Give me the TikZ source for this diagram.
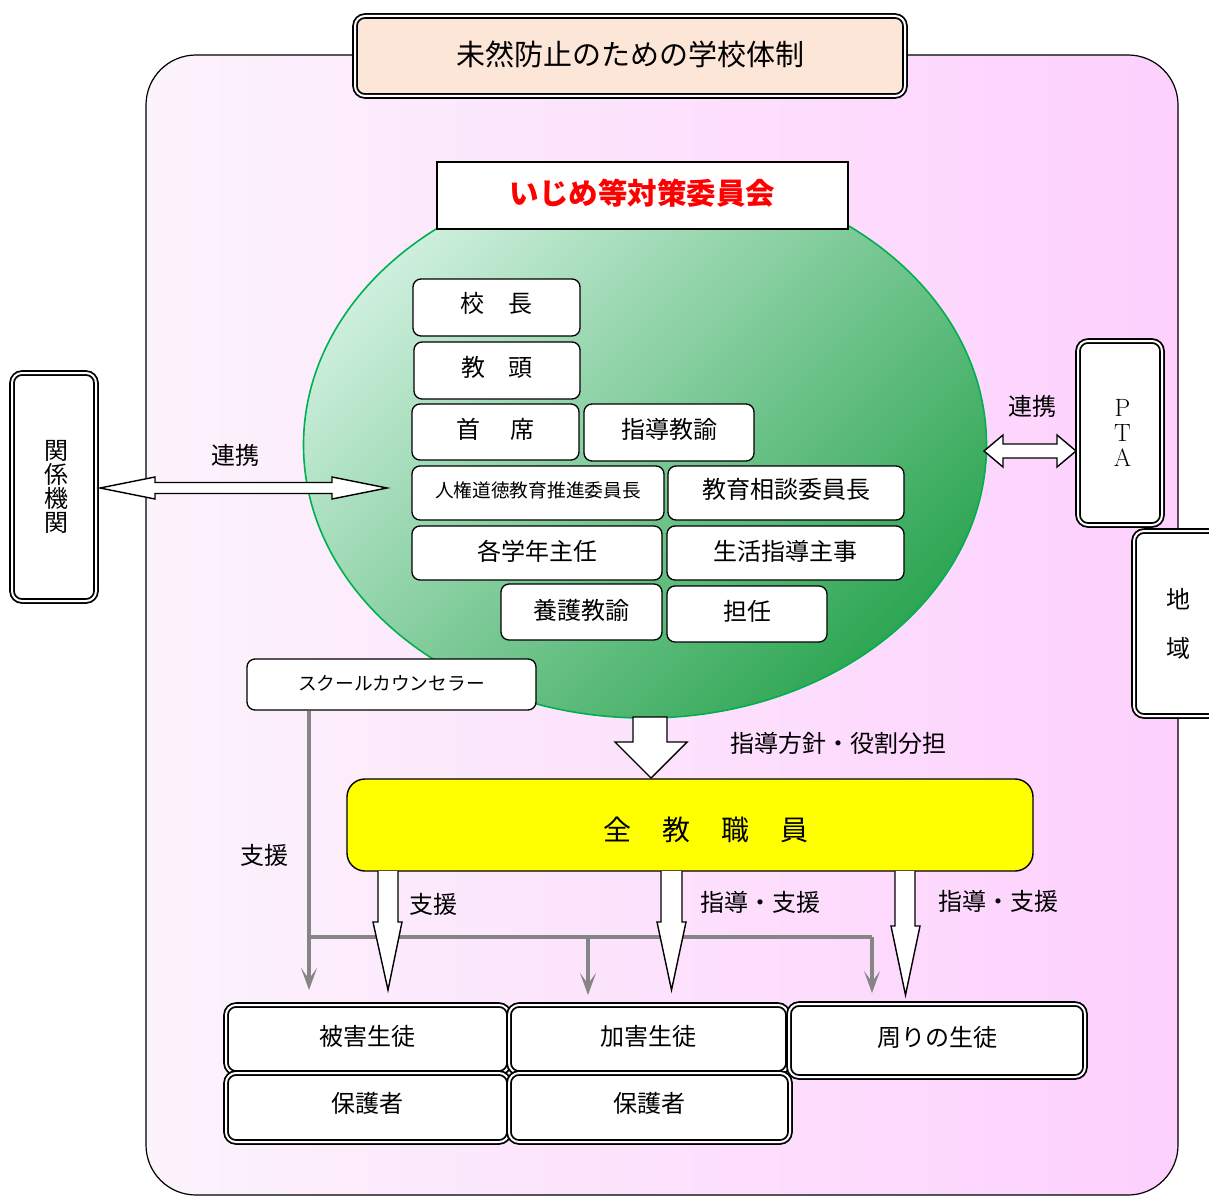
\documentclass[tikz,border=0pt]{standalone}
\usepackage{fontspec}
\newfontfamily\jp{Noto Sans CJK JP}
\usetikzlibrary{arrows.meta,shapes.geometric,calc}
\definecolor{peach}{HTML}{FCE6D8}
\definecolor{pinkL}{HTML}{FCF3FC}
\definecolor{pinkR}{HTML}{FDD0FD}
\definecolor{greenL}{HTML}{CDEFDD}
\definecolor{greenD}{HTML}{2EA653}
\definecolor{greenB}{HTML}{00B050}
\definecolor{yel}{HTML}{FFFF00}
\definecolor{redT}{HTML}{FF0000}
\definecolor{grayL}{HTML}{858585}
\newcommand\myfs[1]{\fontsize{#1}{#1}\selectfont}
\newcommand\upby[2]{\raisebox{#1}[\height][\depth]{#2}}
\begin{document}
\begin{tikzpicture}[x=1pt,y=-1pt,
  box/.style={draw=black, line width=1.3pt, fill=white, rounded corners=8pt, inner sep=0pt, font=\jp\myfs{24}},
  dbox/.style={draw=black, line width=1.8pt, double=white, double distance=2pt, fill=white, rounded corners=10pt, inner sep=0pt, font=\jp\myfs{24}},
  lbl/.style={font=\jp\myfs{24}, inner sep=0pt},
  blk/.style={draw=black, line width=1.4pt, fill=white, line join=miter},
  gline/.style={draw=grayL, line width=4pt},
  gtip/.style={-{Stealth[length=22pt,width=16pt,inset=11pt]}}
]
\clip (0,0) rectangle (1209,1196);
% outer frame
\draw[line width=1.2pt, rounded corners=50pt, left color=pinkL, right color=pinkR] (146,55) rectangle (1178,1195);
% title
\node[dbox, fill=peach, minimum width=550, minimum height=80, font=\jp\myfs{29}] (title) at (630,56) {\upby{2pt}{未然防止のための学校体制}};
% ellipse
\node[ellipse, draw=greenB, line width=1.6pt, top color=greenL, bottom color=greenD, shading angle=45, minimum width=683, minimum height=546, inner sep=0pt] (circ) at (645,445) {};
% committee
\node[draw=black, line width=1.2pt, fill=white, minimum width=411, minimum height=67, inner sep=0pt, font=\jp\bfseries\myfs{29.5}, text=redT] (iinkai) at (642.5,195.5) {\upby{2pt}{いじめ等対策委員会}};
% inner members
\node[box, minimum width=167, minimum height=57] (kocho) at (496.5,307.5) {\upby{4pt}{校\hspace{1em}長}};
\node[box, minimum width=166, minimum height=57] (kyoto) at (497,370.5) {\upby{3.5pt}{教\hspace{0.95em}頭}};
\node[box, minimum width=167, minimum height=56] (shuseki) at (495.5,432) {\upby{3pt}{首\hspace{1.25em}席}};
\node[box, minimum width=170, minimum height=57] (shido) at (669,432.5) {\upby{3pt}{指導教諭}};
\node[box, minimum width=252, minimum height=54, font=\jp\myfs{18.7}] (jinken) at (538,493) {\upby{3pt}{人権道徳教育推進委員長}};
\node[box, minimum width=236, minimum height=54] (soudan) at (786,493) {\upby{4pt}{教育相談委員長}};
\node[box, minimum width=250, minimum height=54] (gakunen) at (537,553) {\upby{2pt}{各学年主任}};
\node[box, minimum width=237, minimum height=54] (seikatsu) at (785.5,553) {\upby{2pt}{生活指導主事}};
\node[box, minimum width=161, minimum height=56] (yogo) at (581.5,612) {\upby{2pt}{養護教諭}};
\node[box, minimum width=160, minimum height=56] (tannin) at (747,614) {\upby{3pt}{担任}};
% school counselor
\node[box, minimum width=289, minimum height=51, font=\jp\myfs{18.7}] (sc) at (391.5,684.5) {\upby{1pt}{スクールカウンセラー}};
% side boxes
\node[dbox, minimum width=84, minimum height=228, align=center, font=\jp\fontsize{24}{24}\selectfont] (kankei) at (54,487) {\hspace*{4pt}関\\\hspace*{4pt}係\\\hspace*{4pt}機\\\hspace*{4pt}関};
\node[dbox, minimum width=84, minimum height=184, align=center, font=\fontsize{25}{25}\selectfont] (pta) at (1120,433) {\hspace*{5pt}P\\\hspace*{5pt}T\\\hspace*{5pt}A};
\node[dbox, minimum width=84, minimum height=185, align=center, font=\jp\fontsize{24}{49}\selectfont] (chiiki) at (1176,623.5) {\hspace*{4pt}地\\\hspace*{4pt}域};
% double arrows
\draw[blk] (100,488) -- (155,477) -- (155,482.5) -- (332,482.5) -- (332,477) -- (387,488) -- (332,499) -- (332,493.5) -- (155,493.5) -- (155,499) -- cycle;
\node[lbl] (renkei1) at (235,455) {連携};
\draw[blk] (984,451) -- (1003,435) -- (1003,444) -- (1057,444) -- (1057,435) -- (1076,451) -- (1057,467) -- (1057,458) -- (1003,458) -- (1003,467) -- cycle;
\node[lbl] (renkei2) at (1032,406) {連携};
% yellow box
\node[draw=black, line width=1.4pt, fill=yel, rounded corners=18pt, minimum width=686, minimum height=92, inner sep=0pt, font=\jp\myfs{28}] (zen) at (690,825) {\upby{-5pt}{\hspace*{32pt}全\hspace{31pt}教\hspace{31pt}職\hspace{31pt}員}};
% arrow from ellipse to yellow box
\draw[blk] (633,717) -- (667,717) -- (667,742) -- (687,742) -- (651,778) -- (615,742) -- (633,742) -- cycle;
\node[lbl] (hoshin) at (838,743) {指導方針・役割分担};
% gray connectors
\coordinate (j0) at (309,937);
\coordinate (j1) at (588,937);
\coordinate (j2) at (872,937);
\draw[gline, gtip] (sc.south -| j0) -- (309,990);
\draw[gline] (j0) -- (j2);
\draw[gline, gtip] (j2) -- (872,993);
\draw[gline, gtip] (j1) -- (588,995);
\node[lbl] (shien0) at (264,855) {支援};
% arrows from yellow box
\draw[blk] (378,871) -- (378,922) -- (373,922) -- (388,990) -- (402,922) -- (398,922) -- (398,871);
\draw[blk] (661,871) -- (661,922) -- (657,922) -- (671.5,990) -- (686,922) -- (682,922) -- (682,871);
\draw[blk] (895,871) -- (895,926) -- (891,926) -- (905.5,995) -- (920,926) -- (915,926) -- (915,871);
\node[lbl] (shien1) at (433,904) {支援};
\node[lbl] (shien2) at (760,902) {指導・支援};
\node[lbl] (shien3) at (998,901) {指導・支援};
% bottom boxes
\node[dbox, minimum width=283, minimum height=68] (higai) at (367.5,1039) {\upby{3pt}{被害生徒}};
\node[dbox, minimum width=279, minimum height=68] (kagai) at (648.5,1039) {\upby{3pt}{加害生徒}};
\node[dbox, minimum width=296, minimum height=73] (mawari) at (937,1040.5) {\upby{3pt}{周りの生徒}};
\node[dbox, minimum width=283, minimum height=69] (hogo1) at (367.5,1107.5) {\upby{4pt}{保護者}};
\node[dbox, minimum width=281, minimum height=69] (hogo2) at (649.5,1107.5) {\upby{4pt}{保護者}};
\end{tikzpicture}
\end{document}
